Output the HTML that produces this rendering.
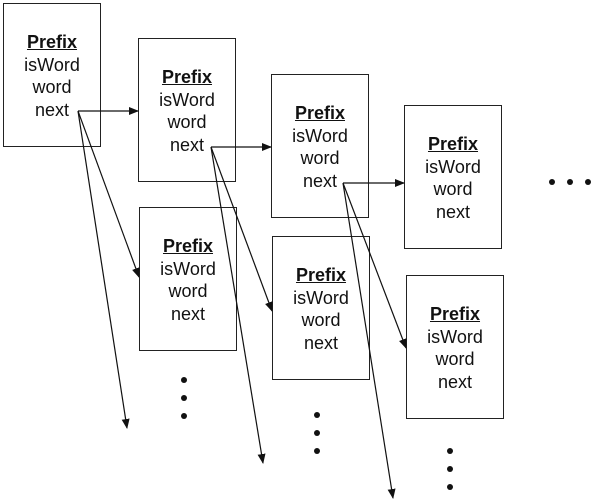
<!DOCTYPE html>
<html><head><style>
body{margin:0;background:#fff;}
.b{position:absolute;border:1.3px solid #222;box-sizing:border-box;width:98px;height:144px;background:#fff;}
.t{position:absolute;left:0;width:100%;text-align:center;font-family:"Liberation Sans",sans-serif;font-size:18px;line-height:22.5px;color:#111;top:27px;}
.t u{font-weight:bold;}
</style></head><body>
<div style="position:relative;width:611px;height:504px;overflow:hidden">
<div class="b" style="left:3px;top:3px"><div class="t"><u>Prefix</u><br>isWord<br>word<br>next</div></div>
<div class="b" style="left:138px;top:38px"><div class="t"><u>Prefix</u><br>isWord<br>word<br>next</div></div>
<div class="b" style="left:271px;top:74px"><div class="t"><u>Prefix</u><br>isWord<br>word<br>next</div></div>
<div class="b" style="left:404px;top:105px"><div class="t"><u>Prefix</u><br>isWord<br>word<br>next</div></div>
<div class="b" style="left:139px;top:207px"><div class="t"><u>Prefix</u><br>isWord<br>word<br>next</div></div>
<div class="b" style="left:272px;top:236px"><div class="t"><u>Prefix</u><br>isWord<br>word<br>next</div></div>
<div class="b" style="left:406px;top:275px"><div class="t"><u>Prefix</u><br>isWord<br>word<br>next</div></div>
<svg width="611" height="504" style="position:absolute;left:0;top:0">
<defs><marker id="a" markerWidth="10" markerHeight="8" refX="9" refY="4" orient="auto" markerUnits="userSpaceOnUse"><path d="M0,0L10,4L0,8z" fill="#111"/></marker></defs>
<g stroke="#111" stroke-width="1.2" fill="none" marker-end="url(#a)">
<line x1="78" y1="111" x2="138" y2="111"/>
<line x1="78" y1="111" x2="139" y2="277"/>
<line x1="78" y1="111" x2="127" y2="428"/>
<line x1="211" y1="147" x2="271" y2="147"/>
<line x1="211" y1="147" x2="272" y2="311"/>
<line x1="211" y1="147" x2="263" y2="463"/>
<line x1="343" y1="183" x2="404" y2="183"/>
<line x1="343" y1="183" x2="406" y2="348"/>
<line x1="343" y1="183" x2="393" y2="498"/>
</g>
<g fill="#111">
<circle cx="552" cy="182" r="3"/><circle cx="570" cy="182" r="3"/><circle cx="588" cy="182" r="3"/>
<circle cx="184" cy="380" r="3"/><circle cx="184" cy="398" r="3"/><circle cx="184" cy="416" r="3"/>
<circle cx="317" cy="415" r="3"/><circle cx="317" cy="433" r="3"/><circle cx="317" cy="451" r="3"/>
<circle cx="450" cy="451" r="3"/><circle cx="450" cy="469" r="3"/><circle cx="450" cy="487" r="3"/>
</g>
</svg>
</div>
</body></html>
